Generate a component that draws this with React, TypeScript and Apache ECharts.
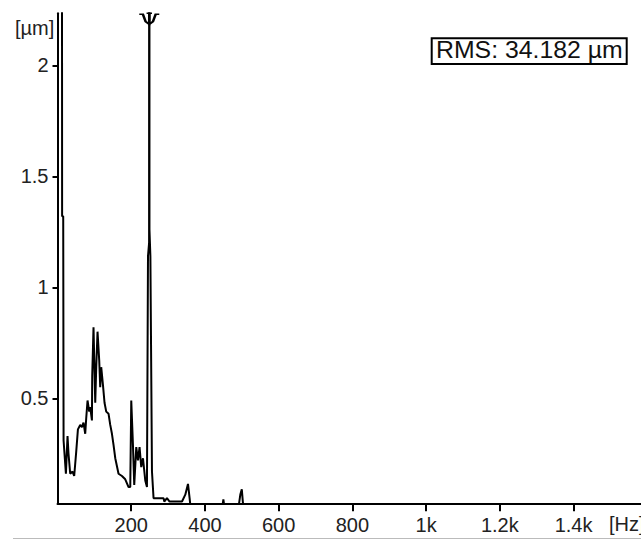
import React, { useEffect, useRef } from "react";
import * as echarts from "echarts";

const freqHz = [9, 11.5, 12.5, 15.5, 16.5, 22.8, 27.2, 29.9, 34.5, 40.7, 45.3, 50.8, 55.4, 61.6, 66.2, 70.6, 75.2, 77.9, 81.5, 86.1, 88.8, 93.4, 94.2, 97.7, 102.4, 105.1, 108.6, 113.2, 115.9, 118.6, 123.3, 127.6, 132.2, 138.5, 143.1, 147.7, 152.0, 156.7, 165.6, 174.8, 183.8, 192.8, 197.4, 200.1, 204.7, 208.2, 213.7, 218.3, 222.6, 227.2, 231.9, 238.1, 242.7, 245.5, 248.5, 249, 249.5, 252, 256.3, 260.6, 287.8, 289.7, 296.9, 304.1, 337.8, 346.7, 354, 358.4, 360.3, 448, 450, 452, 492, 496, 500, 503, 506, 1583];
const amplitudeUm = [5, 5, 1.32, 1.32, 0.31, 0.16, 0.33, 0.25, 0.16, 0.17, 0.15, 0.26, 0.36, 0.38, 0.37, 0.39, 0.34, 0.41, 0.49, 0.44, 0.46, 0.40, 0.60, 0.82, 0.48, 0.64, 0.80, 0.67, 0.55, 0.64, 0.56, 0.48, 0.44, 0.43, 0.38, 0.34, 0.29, 0.23, 0.16, 0.15, 0.135, 0.10, 0.10, 0.49, 0.29, 0.11, 0.28, 0.22, 0.28, 0.19, 0.23, 0.13, 0.10, 1.14, 1.2, 30, 1.26, 1.14, 0.17, 0.05, 0.05, 0.035, 0.05, 0.035, 0.035, 0.066, 0.114, 0.05, 0.02, 0.02, 0.045, 0.02, 0.02, 0.066, 0.09, 0.03, 0.02, 0.02];

const xTicks = [200, 400, 600, 800, 1000, 1200, 1400];
const yTicks = [0.5, 1, 1.5, 2];
const cursorFreq = 249;
const rmsText = "RMS: 34.182 µm";

const X_MIN = 0;
const X_MAX = 1583;
const Y_MIN = 0.027;
const Y_MAX = 2.234;

const FONT = "Liberation Sans";

export default function App() {
  const ref = useRef<HTMLDivElement>(null);
  useEffect(() => {
    if (!ref.current) return;
    const chart = echarts.init(ref.current, null, { renderer: "svg" });
    const lineData = freqHz.map((f, i) => [f, amplitudeUm[i]]);
    chart.setOption({
      animation: false,
      backgroundColor: "#fff",
      grid: { left: 57.5, top: 13.3, right: 0, bottom: 36.7, containLabel: false },
      xAxis: {
        type: "value",
        min: X_MIN,
        max: X_MAX,
        splitLine: { show: false },
        axisLine: { show: true, lineStyle: { color: "#000", width: 2 } },
        axisTick: { show: true, length: 8, lineStyle: { color: "#000", width: 2 }, customValues: xTicks },
        axisLabel: {
          show: true,
          customValues: xTicks,
          margin: 12,
          color: "#222",
          fontSize: 20,
          fontFamily: FONT,
          formatter: (v: number) => (v >= 1000 ? v / 1000 + "k" : String(v)),
        },
      },
      yAxis: {
        type: "value",
        min: Y_MIN,
        max: Y_MAX,
        splitLine: { show: false },
        axisLine: { show: true, lineStyle: { color: "#000", width: 2 } },
        axisTick: { show: true, length: 5, lineStyle: { color: "#000", width: 2 }, customValues: yTicks },
        axisLabel: {
          show: true,
          customValues: yTicks,
          margin: 9,
          color: "#222",
          fontSize: 20,
          fontFamily: FONT,
          formatter: (v: number) => String(v),
        },
      },
      series: [
        {
          type: "line",
          data: lineData,
          showSymbol: false,
          symbol: "none",
          clip: true,
          silent: true,
          lineStyle: { color: "#000", width: 2 },
        },
        {
          type: "scatter",
          data: [[cursorFreq, 2.207]],
          clip: false,
          silent: true,
          symbol: "path://M0,1 L4,1 L7,9 L11,12 L15,9 L18,1 L22,1 M8,0 L14,0 M11,0 L11,13",
          symbolSize: [20, 12],
          itemStyle: { color: "none", borderColor: "#000", borderWidth: 2, opacity: 1 },
          z: 5,
        },
      ],
      graphic: [
        {
          type: "text",
          left: 15,
          top: 18,
          style: { text: "[µm]", fontSize: 20, fontFamily: FONT, fill: "#222" },
        },
        {
          type: "text",
          left: 609,
          top: 514,
          style: { text: "[Hz]", fontSize: 20, fontFamily: FONT, fill: "#222" },
        },
        {
          type: "rect",
          shape: { x: 431.7, y: 38.3, width: 195, height: 25.7 },
          style: { fill: "#fff", stroke: "#000", lineWidth: 2 },
          z: 10,
        },
        {
          type: "text",
          x: 436,
          y: 38,
          scaleX: 1.08,
          z: 11,
          style: { text: rmsText, fontSize: 23, fontFamily: FONT, fill: "#111" },
        },
        {
          type: "line",
          shape: { x1: 13, y1: 538.5, x2: 641, y2: 538.5 },
          style: { stroke: "#bbb", lineWidth: 1 },
        },
      ],
    });
    return () => chart.dispose();
  }, []);
  return (
    <div
      ref={ref}
      style={{ position: "fixed", left: 0, top: 0, width: 641, height: 540, background: "#fff" }}
    />
  );
}
